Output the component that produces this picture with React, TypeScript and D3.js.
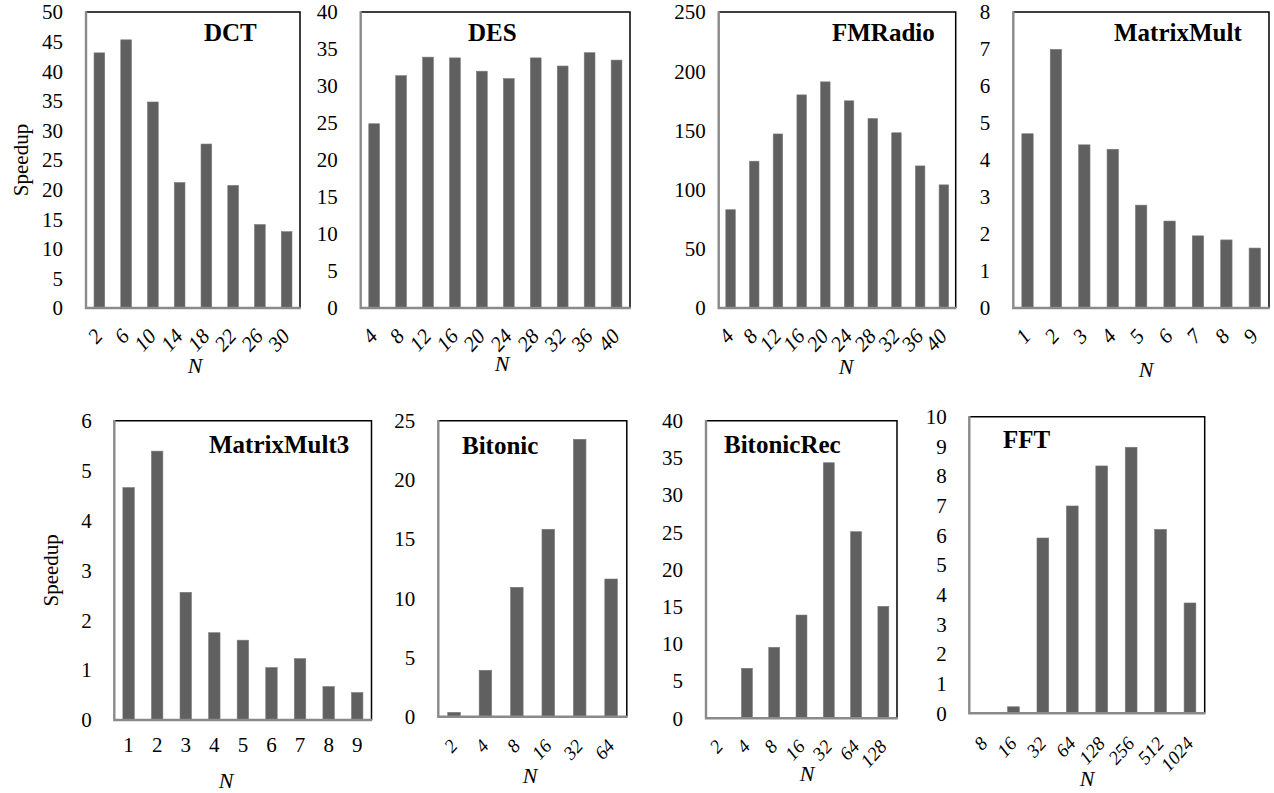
import React from "react";
import * as d3 from "d3";

// ---------- data ----------
const dctN = ["2", "6", "10", "14", "18", "22", "26", "30"];
const dctSpeedup = [43.1, 45.3, 34.8, 21.2, 27.7, 20.7, 14.1, 12.9];

const desN = ["4", "8", "12", "16", "20", "24", "28", "32", "36", "40"];
const desSpeedup = [24.9, 31.4, 33.9, 33.8, 32.0, 31.0, 33.8, 32.7, 34.5, 33.5];

const fmN = ["4", "8", "12", "16", "20", "24", "28", "32", "36", "40"];
const fmSpeedup = [83, 124, 147, 180, 191, 175, 160, 148, 120, 104];

const mmN = ["1", "2", "3", "4", "5", "6", "7", "8", "9"];
const mmSpeedup = [4.71, 6.99, 4.41, 4.29, 2.78, 2.35, 1.95, 1.84, 1.62];

const mm3N = ["1", "2", "3", "4", "5", "6", "7", "8", "9"];
const mm3Speedup = [4.66, 5.39, 2.56, 1.75, 1.6, 1.05, 1.23, 0.67, 0.55];

const bitonicN = ["2", "4", "8", "16", "32", "64"];
const bitonicSpeedup = [0.37, 3.92, 10.93, 15.83, 23.43, 11.63];

const bitonicRecN = ["2", "4", "8", "16", "32", "64", "128"];
const bitonicRecSpeedup = [0, 6.72, 9.54, 13.88, 34.35, 25.08, 15.05];

const fftN = ["8", "16", "32", "64", "128", "256", "512", "1024"];
const fftSpeedup = [0, 0.22, 5.91, 6.99, 8.34, 8.97, 6.2, 3.72];

const yMaxes = [50, 40, 250, 8, 6, 25, 40, 10];
const yStepList = [5, 5, 50, 1, 1, 5, 5, 1];
const titles = ["DCT", "DES", "FMRadio", "MatrixMult", "MatrixMult3", "Bitonic", "BitonicRec", "FFT"];

// ---------- layout ----------
const layout = [
  { x0: 86, x1: 300, y0: 12, y1: 308, tx: 204, ty: 40.7, rot: true, lf: 21, ly: 29, ylab: 58, gap: 23, nx: 195, ny: 373 },
  { x0: 360.7, x1: 630, y0: 12, y1: 308, tx: 468, ty: 40.7, rot: true, lf: 21, ly: 29, ylab: 0, gap: 23, nx: 502, ny: 371 },
  { x0: 718.7, x1: 955.7, y0: 12, y1: 308, tx: 832, ty: 40.7, rot: true, lf: 21, ly: 29, ylab: 0, gap: 13, nx: 846, ny: 374 },
  { x0: 1013.3, x1: 1269, y0: 12, y1: 308, tx: 1114, ty: 40.7, rot: true, lf: 21, ly: 29, ylab: 0, gap: 23, nx: 1146, ny: 377 },
  { x0: 114.3, x1: 371.5, y0: 420.7, y1: 720, tx: 209, ty: 453, rot: false, lf: 21, ly: 32, ylab: 56, gap: 22.5, nx: 226, ny: 788 },
  { x0: 438.3, x1: 626.8, y0: 420.7, y1: 716.7, tx: 462, ty: 454, rot: true, lf: 19, ly: 30, ylab: 0, gap: 23, nx: 530, ny: 783 },
  { x0: 706, x1: 897, y0: 420.7, y1: 718.3, tx: 724, ty: 453, rot: true, lf: 19, ly: 29, ylab: 0, gap: 23, nx: 807, ny: 781 },
  { x0: 969.3, x1: 1204.7, y0: 416.7, y1: 713.3, tx: 1003, ty: 448, rot: true, lf: 19, ly: 31, ylab: 0, gap: 22.5, nx: 1087, ny: 786 },
];

const cats = [dctN, desN, fmN, mmN, mm3N, bitonicN, bitonicRecN, fftN];
const vals = [dctSpeedup, desSpeedup, fmSpeedup, mmSpeedup, mm3Speedup, bitonicSpeedup, bitonicRecSpeedup, fftSpeedup];

const serif = { fontFamily: '"Liberation Serif", "Times New Roman", Times, serif' };
const BAR = "#606060";

function Panel({ i }: { i: number }) {
  const L = layout[i];
  const x = d3.scaleBand<string>().domain(cats[i]).range([L.x0, L.x1]).paddingInner(0.6).paddingOuter(0.3);
  const y = d3.scaleLinear().domain([0, yMaxes[i]]).range([L.y1, L.y0]);
  const ticks = d3.range(0, yMaxes[i] + yStepList[i] / 2, yStepList[i]);
  const cy = (L.y0 + L.y1) / 2;
  return (
    <g>
      {cats[i].map((c, k) => {
        const v = vals[i][k];
        if (v <= 0) return null;
        return (
          <rect key={c} x={x(c)} y={y(v)} width={x.bandwidth()} height={y(0) - y(v)} fill={BAR} stroke="#7a7a7a" strokeWidth={0.6} />
        );
      })}
      <path d={`M${L.x0},${L.y0}H${L.x1}V${L.y1}`} fill="none" stroke="#000" strokeWidth={1.5} />
      <path d={`M${L.x0},${L.y0 - 0.7}V${L.y1}H${L.x1 + 0.7}`} fill="none" stroke="#8a8a8a" strokeWidth={2.4} />
      {ticks.map((t) => (
        <text key={t} x={L.x0 - L.gap} y={y(t)} dy="0.35em" textAnchor="end" style={serif} fontSize={21} fill="#000">
          {t}
        </text>
      ))}
      {cats[i].map((c) => {
        const px = (x(c) as number) + x.bandwidth() / 2;
        if (L.rot) {
          return (
            <text key={c} transform={`translate(${px + 4.5},${L.y1 + L.ly}) rotate(-48)`} textAnchor="end" style={{ ...serif, fontStyle: "italic" }} fontSize={L.lf} fill="#000">
              {c}
            </text>
          );
        }
        return (
          <text key={c} x={px} y={L.y1 + L.ly} textAnchor="middle" style={serif} fontSize={L.lf} fill="#000">
            {c}
          </text>
        );
      })}
      <text x={L.tx} y={L.ty} style={{ ...serif, fontWeight: "bold" }} fontSize={25} fill="#000">
        {titles[i]}
      </text>
      <text x={L.nx} y={L.ny} textAnchor="middle" style={{ ...serif, fontStyle: "italic" }} fontSize={22} fill="#000">
        N
      </text>
      {L.ylab > 0 && (
        <text transform={`translate(${L.x0 - L.ylab},${cy}) rotate(-90)`} textAnchor="middle" style={serif} fontSize={21} fill="#000">
          Speedup
        </text>
      )}
    </g>
  );
}

export default function App() {
  return (
    <svg width={1274} height={793} style={{ position: "absolute", left: 0, top: 0, background: "#fff" }}>
      <rect width={1274} height={793} fill="#fff" />
      {layout.map((_, i) => (
        <Panel key={i} i={i} />
      ))}
    </svg>
  );
}
